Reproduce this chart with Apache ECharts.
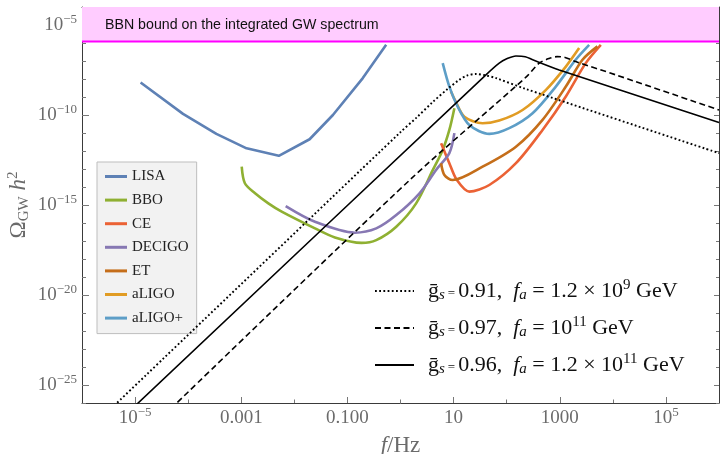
<!DOCTYPE html>
<html><head><meta charset="utf-8">
<script src="https://cdn.jsdelivr.net/npm/echarts@6/dist/echarts.min.js"></script>
<style>html,body{margin:0;padding:0;background:#fff}#c{width:720px;height:454px}</style>
</head><body><div id="c"></div>
<script>
// ---- data (frequency f in Hz, Omega_GW h^2) ----
const lisaF = [1.27e-5, 8.0e-5, 3.4e-4, 1.26e-3, 5.1e-3, 1.94e-2, 5.33e-2, 0.195, 0.537];
const lisaO = [6.4e-9, 1.15e-10, 8.9e-12, 1.41e-12, 5.4e-13, 4.5e-12, 1.0e-10, 1.12e-8, 7.9e-7];
const bboF = [1.02e-3, 1.17e-3, 1.82e-3, 3.24e-3, 5.78e-3, 2.45e-2, 5.81e-2, 0.1845, 0.349, 0.832, 1.97, 4.07, 6.24, 8.32, 10.35];
const bboO = [1.35e-13, 1.62e-14, 4.47e-15, 1.23e-15, 4.27e-16, 5.0e-17, 1.58e-17, 7.9e-18, 1.12e-17, 6.2e-17, 1.23e-15, 8.9e-14, 1.15e-12, 1.48e-11, 2.4e-10];
const ceF = [5.82, 8.32, 11.5, 19.8, 47.1, 149.6, 474, 1303, 3090, 5940];
const ceO = [2.7e-12, 2.1e-13, 2.45e-14, 5.5e-15, 1.29e-14, 2.1e-13, 1.48e-11, 1.07e-9, 7.6e-8, 7.9e-7];
const decigoF = [6.87e-3, 2.45e-2, 0.138, 0.349, 0.832, 2.28, 4.68, 8.32, 10.35];
const decigoO = [8.7e-16, 1.17e-16, 2.9e-17, 5.0e-17, 2.75e-16, 4.47e-15, 8.9e-14, 7.6e-13, 9.8e-12];
const etF = [5.82, 6.71, 9.62, 35.2, 149.6, 474, 1303, 2680, 5130];
const etO = [2.1e-13, 4.7e-14, 2.45e-14, 1.35e-13, 1.74e-12, 5.4e-11, 3.8e-9, 1.17e-7, 6.5e-7];
const aligoF = [8.91, 10.96, 15.96, 35.2, 72.4, 199.5, 550, 1303, 2320];
const aligoO = [2.0e-9, 5.6e-10, 8.1e-11, 3.47e-11, 4.9e-11, 1.9e-10, 2.5e-9, 4.9e-8, 5.2e-7];
const aligoPF = [6.24, 8.32, 11.94, 19.8, 47.1, 112, 307.6, 843, 1995, 3580];
const aligoPO = [7.6e-8, 3.8e-9, 2.95e-10, 2.8e-11, 8.9e-12, 1.86e-11, 1.26e-10, 3.8e-9, 1.17e-7, 7.9e-7];
// axion spectra
const dotF = [3.55e-6, 1.0, 2.0, 3.98, 7.94, 12.6, 17.8, 26.3, 39.8, 63.1, 229, 1e6];
const dotO = [5.0e-27, 1.12e-11, 7.1e-11, 5.0e-10, 3.0e-9, 8.7e-9, 1.55e-8, 1.9e-8, 1.6e-8, 1.12e-8, 2.8e-9, 7.6e-13];
const dashF = [4.68e-5, 1.61, 231, 411, 631, 891, 1259, 1995, 11350, 1e6];
const dashO = [4.7e-27, 3.0e-14, 1.26e-8, 7.6e-8, 1.38e-7, 1.74e-7, 1.58e-7, 9.3e-8, 1.7e-8, 1.9e-10];
const solF = [8.9e-6, 40.7, 72.4, 100, 149.6, 224, 309, 977, 1e6];
const solO = [5.0e-27, 1.7e-8, 7.6e-8, 1.32e-7, 1.9e-7, 1.74e-7, 1.17e-7, 3.2e-8, 3.8e-11];
const bbnBound = 1.22e-6;
const bbnText = 'BBN bound on the integrated GW spectrum';
// categories / legend
const detectors = ['LISA', 'BBO', 'CE', 'DECIGO', 'ET', 'aLIGO', 'aLIGO+'];
const axionNames = ['gs091', 'gs097', 'gs096'];
const axionLabels = [
  ['0.91', '1.2 \u00d7 10', '9'],
  ['0.97', '10', '11'],
  ['0.96', '1.2 \u00d7 10', '11']
];
// tick labels
const xMajor = [1e-5, 1e-3, 0.1, 10, 1000, 1e5];
const xMajorText = ['10^-5', '0.001', '0.100', '10', '1000', '10^5'];
const xMinor = [1e-4, 1e-2, 1, 100, 1e4];
const yMajor = [1e-25, 1e-20, 1e-15, 1e-10, 1e-5];
const yMajorText = ['10^-25', '10^-20', '10^-15', '10^-10', '10^-5'];
const yMinor = [1e-26,1e-24,1e-23,1e-22,1e-21,1e-19,1e-18,1e-17,1e-16,1e-14,1e-13,1e-12,1e-11,1e-9,1e-8,1e-7,1e-6,1e-4];

const colors = ['#5E81B5', '#8FB032', '#EB6235', '#8778B3', '#C56E1A', '#E19C24', '#5D9EC7'];
const zip = (a, b) => a.map((v, i) => [v, b[i]]);
const detF = [lisaF, bboF, ceF, decigoF, etF, aligoF, aligoPF];
const detO = [lisaO, bboO, ceO, decigoO, etO, aligoO, aligoPO];

const LBL = '#6b6b6b';
const serif = 'Liberation Serif';
const tickRich = {
  b: {fontFamily: serif, fontSize: 19, color: LBL, lineHeight: 22},
  s: {fontFamily: serif, fontSize: 13, color: LBL, lineHeight: 13, padding: [0, 0, 11, 0]}
};
function richTick(t) {
  if (t.indexOf('^') >= 0) {
    const p = t.split('^');
    return '{b|' + p[0] + '}{s|' + p[1].replace('-', '\u2212') + '}';
  }
  return '{b|' + t + '}';
}
function fmt(vals, texts) {
  return function (v) {
    for (let i = 0; i < vals.length; i++) {
      if (Math.abs(Math.log10(v) - Math.log10(vals[i])) < 1e-6) return richTick(texts[i]);
    }
    return '';
  };
}
const FRAME = '#3a3a3a';
const TICK = '#777';
function xAx(pos, vals, len, showLine, labels) {
  return {
    type: 'log', logBase: 10, min: 1e-6, max: 1e6, position: pos,
    axisLine: {show: showLine, onZero: false, lineStyle: {color: FRAME, width: 1}},
    axisTick: {show: true, inside: true, length: len, customValues: vals, lineStyle: {color: TICK}},
    axisLabel: labels ? {show: true, customValues: xMajor, formatter: fmt(xMajor, xMajorText), rich: tickRich, margin: 4} : {show: false},
    splitLine: {show: false}, minorTick: {show: false}
  };
}
function yAx(pos, vals, len, showLine, labels) {
  return {
    type: 'log', logBase: 10, min: 1e-26, max: 1e-4, position: pos,
    axisLine: {show: showLine, onZero: false, lineStyle: {color: FRAME, width: 1}},
    axisTick: {show: true, inside: true, length: len, customValues: vals, lineStyle: {color: TICK}},
    axisLabel: labels ? {show: true, customValues: yMajor, formatter: fmt(yMajor, yMajorText), rich: tickRich, margin: 5} : {show: false},
    splitLine: {show: false}, minorTick: {show: false}
  };
}
const xAxes = [xAx('bottom', xMajor, 6, true, true), xAx('bottom', xMinor, 3.5, false, false),
               xAx('top', xMajor, 7, true, false), xAx('top', xMinor, 4, false, false)];
xAxes[0].name = '{f|f}{n|/Hz}';
xAxes[0].nameLocation = 'middle';
xAxes[0].nameGap = 31;
xAxes[0].nameMoveOverlap = false;
xAxes[0].nameTextStyle = {rich: {
  f: {fontFamily: serif, fontStyle: 'italic', fontSize: 23, color: LBL},
  n: {fontFamily: serif, fontSize: 23, color: LBL}}};
const yAxes = [yAx('left', yMajor, 7, true, true), yAx('left', yMinor, 4, false, false),
               yAx('right', yMajor, 5, true, false), yAx('right', yMinor, 3, false, false)];
yAxes[0].name = '{o|\u03a9}{sub|GW}{o| }{h|h}{sup|2}';
yAxes[0].nameLocation = 'middle';
yAxes[0].nameRotate = 90;
yAxes[0].nameGap = 50;
yAxes[0].nameMoveOverlap = false;
yAxes[0].nameTextStyle = {rich: {
  o: {fontFamily: serif, fontSize: 23, color: LBL, lineHeight: 26},
  sub: {fontFamily: serif, fontSize: 15, color: LBL, lineHeight: 15, padding: [10, 0, 0, 0]},
  h: {fontFamily: serif, fontStyle: 'italic', fontSize: 23, color: LBL, lineHeight: 26},
  sup: {fontFamily: serif, fontSize: 15, color: LBL, lineHeight: 15, padding: [0, 0, 11, 0]}
}};

const series = [];
series.push({
  name: 'BBN', type: 'line', xAxisIndex: 0, yAxisIndex: 0, symbol: 'none', silent: true,
  data: [[1e-6, bbnBound], [1e6, bbnBound]],
  lineStyle: {color: '#ff00ff', width: 2},
  areaStyle: {color: '#ffccff', opacity: 1, origin: 'end'}, z: 1
});
detectors.forEach((d, i) => {
  series.push({
    name: d, type: 'line', xAxisIndex: 0, yAxisIndex: 0, symbol: 'none',
    smooth: i === 0 ? false : 0.3,
    data: zip(detF[i], detO[i]),
    lineStyle: {color: colors[i], width: 2.6}, itemStyle: {color: colors[i]}, z: 3
  });
});
const axF = [dotF, dashF, solF], axO = [dotO, dashO, solO];
const axType = [[1.8, 2.4], [6, 3.5], 'solid'];
axionNames.forEach((n, i) => {
  series.push({
    name: n, type: 'line', xAxisIndex: 0, yAxisIndex: 0, symbol: 'none', smooth: 0.3,
    data: zip(axF[i], axO[i]),
    lineStyle: {color: '#000', width: i === 0 ? 1.9 : 1.6, type: axType[i]}, itemStyle: {color: '#000'}, z: 4
  });
});

const TXT = '#111';
const legRich = {
  g: {fontFamily: serif, fontSize: 22, color: TXT, lineHeight: 24},
  s: {fontFamily: serif, fontStyle: 'italic', fontSize: 15, color: TXT, lineHeight: 15, padding: [8, 0, 0, 0]},
  e: {fontFamily: serif, fontSize: 13, color: TXT, lineHeight: 13, padding: [6, 3, 0, 3]},
  n: {fontFamily: serif, fontSize: 22, color: TXT, lineHeight: 24},
  i: {fontFamily: serif, fontStyle: 'italic', fontSize: 22, color: TXT, lineHeight: 24},
  p: {fontFamily: serif, fontSize: 15, color: TXT, lineHeight: 15, padding: [0, 0, 11, 0]},
  pad: {width: 9}
};
function axLegend(name) {
  const k = axionNames.indexOf(name);
  const L = axionLabels[k];
  return '{pad|}{g|\u1e21}{s|s}{e|=}{n|' + L[0] + ',  }{i|f}{s|a}{n| = ' + L[1] + '}{p|' + L[2] + '}{n| GeV}';
}

const option = {
  animation: false,
  backgroundColor: '#fff',
  grid: {left: 82, right: 1, top: 7, bottom: 51, containLabel: false, outerBoundsMode: 'none'},
  xAxis: xAxes,
  yAxis: yAxes,
  legend: [{
    data: detectors, orient: 'vertical', left: 97, top: 162,
    padding: [7, 8, 8, 8], itemGap: 8.6, itemWidth: 22, itemHeight: 3, icon: 'rect',
    backgroundColor: '#f2f2f2', borderColor: '#bdbdbd', borderWidth: 1,
    textStyle: {fontFamily: serif, fontSize: 15, color: '#222', lineHeight: 14},
    selectedMode: false
  }, {
    data: axionNames, orient: 'vertical', left: 374, top: 278, padding: 0,
    itemGap: 11, itemWidth: 39, itemHeight: 14,
    itemStyle: {opacity: 0},
    formatter: axLegend, textStyle: {rich: legRich},
    selectedMode: false
  }],
  graphic: [{
    type: 'text', left: 105, top: 18, silent: true, z: 100,
    style: {text: bbnText, fontFamily: 'Liberation Sans', fontSize: 14.2, fill: '#111'}
  }],
  series: series
};
const chart = echarts.init(document.getElementById('c'), null, {renderer: 'canvas'});
chart.setOption(option);
</script></body></html>
